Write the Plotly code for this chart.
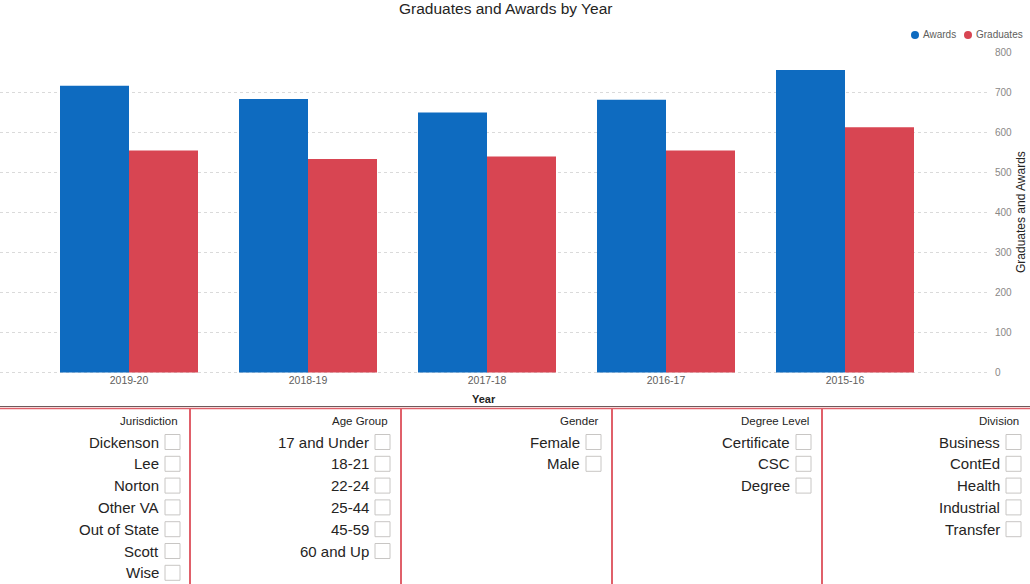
import plotly.graph_objects as go

# ---------------- data ----------------
years = ["2015-16", "2016-17", "2017-18", "2018-19", "2019-20"]
awards = [756, 682, 650, 684, 717]
graduates = [613, 555, 540, 534, 555]
y_ticks = [0, 100, 200, 300, 400, 500, 600, 700, 800]

slicer_titles = ["Division", "Degree Level", "Gender", "Age Group", "Jurisdiction"]
division = ["Business", "ContEd", "Health", "Industrial", "Transfer"]
degree_level = ["Certificate", "CSC", "Degree"]
gender = ["Female", "Male"]
age_group = ["17 and Under", "18-21", "22-24", "25-44", "45-59", "60 and Up"]
jurisdiction = ["Dickenson", "Lee", "Norton", "Other VA", "Out of State", "Scott", "Wise"]

# ---------------- helpers ----------------
W, H = 1030, 584
FONT = "Segoe UI, Liberation Sans, Arial, sans-serif"
BLUE = "#0E6BC0"
RED = "#D84552"


def px(x):
    return x / W


def py(y):
    return 1 - y / H


display_order = years[::-1]

fig = go.Figure()
fig.add_trace(go.Bar(x=years, y=awards, name="Awards", marker=dict(color=BLUE, line=dict(width=0))))
fig.add_trace(go.Bar(x=years, y=graduates, name="Graduates", marker=dict(color=RED, line=dict(width=0))))

shapes = []
annotations = []

# baseline grid line at 0 (dotted, like the other grid lines)
shapes.append(dict(type="line", xref="paper", yref="y", x0=0, x1=px(988), y0=0, y1=0,
                   line=dict(color="#DADADA", width=1, dash="dot"), layer="below"))

# title
annotations.append(dict(x=px(505), y=py(8), xref="paper", yref="paper", text="Graduates and Awards by Year",
                        showarrow=False, font=dict(family=FONT, size=15.5, color="#252423"),
                        xanchor="center", yanchor="middle"))
# legend (custom)
legend_items = [("Awards", BLUE, 915), ("Graduates", RED, 968)]
for name, col, x in legend_items:
    shapes.append(dict(type="circle", xref="paper", yref="paper",
                       x0=px(x - 4), x1=px(x + 4), y0=py(39), y1=py(31),
                       fillcolor=col, line=dict(width=0)))
    annotations.append(dict(x=px(x + 6), y=py(35), xref="paper", yref="paper", text=name, showarrow=False,
                            font=dict(family=FONT, size=10, color="#605E5C"), xanchor="left", yanchor="middle"))
# axis titles
annotations.append(dict(x=px(484), y=py(399), xref="paper", yref="paper", text="<b>Year</b>", showarrow=False,
                        font=dict(family=FONT, size=11, color="#252423"), xanchor="center", yanchor="middle"))
annotations.append(dict(x=px(1021), y=py(212), xref="paper", yref="paper", text="Graduates and Awards",
                        showarrow=False, textangle=-90,
                        font=dict(family=FONT, size=12, color="#252423"), xanchor="center", yanchor="middle"))

# ---------------- slicer panels ----------------
shapes.append(dict(type="line", xref="paper", yref="paper", x0=0, x1=1, y0=py(406.5), y1=py(406.5),
                   line=dict(color="#6E5A5C", width=1)))
shapes.append(dict(type="line", xref="paper", yref="paper", x0=0, x1=1, y0=py(408.5), y1=py(408.5),
                   line=dict(color="#E0606A", width=1.5)))
for xb in [190, 401, 612, 822]:
    shapes.append(dict(type="line", xref="paper", yref="paper", x0=px(xb), x1=px(xb), y0=py(408), y1=0,
                       line=dict(color="#E0606A", width=2)))

panel_right = [1031, 821, 611, 400, 190]
panel_items = [division, degree_level, gender, age_group, jurisdiction]
for title, items, right in zip(slicer_titles, panel_items, panel_right):
    cb_r = right - 10
    cb_l = cb_r - 15
    annotations.append(dict(x=px(cb_r), y=py(421), xref="paper", yref="paper", text=title, showarrow=False,
                            font=dict(family=FONT, size=11.5, color="#252423"), xanchor="right", yanchor="middle"))
    for i, it in enumerate(items):
        yc = 442 + 21.8 * i
        shapes.append(dict(type="rect", xref="paper", yref="paper", x0=px(cb_l), x1=px(cb_r),
                           y0=py(yc + 7.5), y1=py(yc - 7.5), fillcolor="white",
                           line=dict(color="#C8C6C4", width=1)))
        annotations.append(dict(x=px(cb_l - 4.5), y=py(yc), xref="paper", yref="paper", text=it, showarrow=False,
                                font=dict(family=FONT, size=15, color="#252423"),
                                xanchor="right", yanchor="middle"))

fig.update_layout(
    width=W, height=H,
    margin=dict(l=0, r=0, t=0, b=0, pad=0),
    paper_bgcolor="white", plot_bgcolor="white",
    barmode="group", bargap=0.229, bargroupgap=0,
    showlegend=False,
    shapes=shapes, annotations=annotations,
    xaxis=dict(domain=[0, px(988)], type="category", categoryorder="array", categoryarray=display_order,
               range=[-129 / 179, 4 + 143 / 179], showgrid=False, zeroline=False, showline=False,
               ticks="", tickfont=dict(family=FONT, size=10.5, color="#605E5C"), automargin=False),
    yaxis=dict(domain=[py(372.9), py(52.1)], range=[-1, 801], side="right", tickvals=y_ticks,
               showgrid=True, gridcolor="#DADADA", griddash="dot", gridwidth=1,
               zeroline=False, showline=False, ticks="", ticklabelstandoff=6,
               tickfont=dict(family=FONT, size=10, color="#8A8886"), automargin=False),
)

fig.write_html("out.html", config={"displayModeBar": False},
               post_script="document.body.style.margin='0px';document.body.style.overflow='hidden';")
